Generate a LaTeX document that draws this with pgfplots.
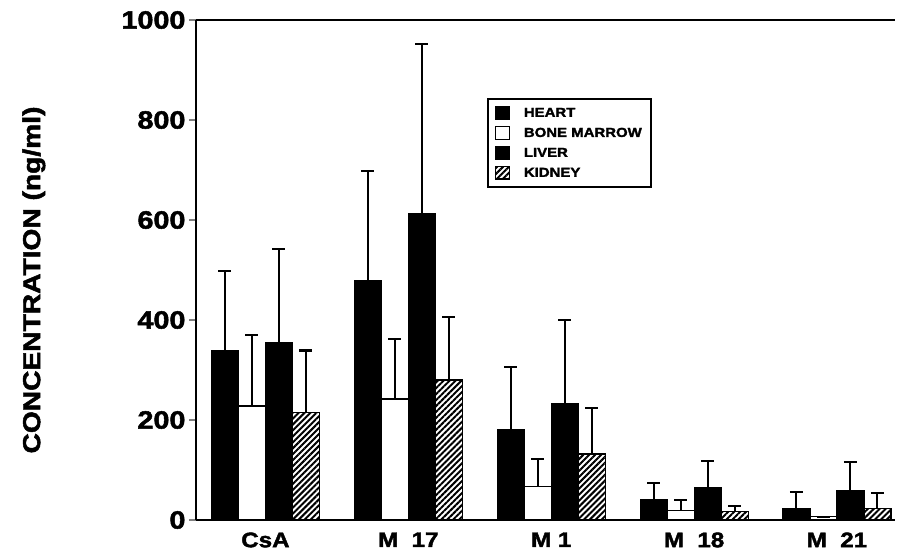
\documentclass[border=0pt]{standalone}
\usepackage{pgfplots}
\pgfplotsset{compat=1.18}
\usepackage{fontspec}
\setmainfont{Liberation Sans}[BoldFeatures={FakeStretch=1.15, FakeBold=2}]
\usetikzlibrary{patterns.meta}
\begin{document}
\begin{tikzpicture}
\useasboundingbox (-196pt,-37pt) rectangle (703pt,520pt);
\begin{axis}[
 at={(0pt,0pt)}, anchor=south west,
 scale only axis, width=699pt, height=500pt,
 xmin=-0.486, xmax=4.406, ymin=0, ymax=1000,
 axis y line=left, axis x line=box,
 axis line style={-, line width=2.2pt},
 ytick={0,200,400,600,800,1000},
 ytick align=outside, major tick length=7pt,
 ytick style={line width=1.6pt},
 xtick={0,1,2,3,4},
 xticklabels={CsA, M\ \ 17, M\ 1, M\ \ 18, M\ \ 21},
 xtick style={draw=none},
 x tick label style={font=\fontsize{21}{24}\selectfont\bfseries, yshift=-2pt},
 y tick label style={font=\fontsize{25}{28}\selectfont\bfseries},
 /pgf/number format/assume math mode=true,
 /pgf/number format/1000 sep={},
 ylabel={CONCENTRATION (ng/ml)},
 ylabel style={at={(axis description cs:-0.232,0.48)}, anchor=center, font=\fontsize{24.5}{28}\selectfont\bfseries},
 ybar=0pt, bar width=27pt,
 every axis plot/.append style={draw=black, line width=1.2pt},
 error bars/y dir=plus, error bars/y explicit,
 error bars/error bar style={line width=2pt, draw=black, solid},
 error bars/error mark options={rotate=90, line width=2pt, mark size=6.5pt, draw=black},
 legend style={at={(rel axis cs:0.416,0.844)}, anchor=north west,
   draw=black, line width=1.8pt, inner xsep=7pt, inner ysep=7pt,
   font=\fontsize{13}{15}\selectfont\bfseries, row sep=5.5pt,
   cells={anchor=west}},
 legend image code/.code={\draw[#1, line width=1.2pt] (0pt,-6pt) rectangle (14pt,6.5pt); \path (26pt,0pt);},
]
\addplot[fill=black] coordinates {(0,338) +- (0,160) (1,478) +- (0,219) (2,180) +- (0,126) (3,40) +- (0,35) (4,22) +- (0,35)};
\addplot[fill=white] coordinates {(0,228) +- (0,141) (1,242) +- (0,120) (2,67) +- (0,55) (3,19) +- (0,22) (4,7) +- (0,0)};
\addplot[fill=black] coordinates {(0,355) +- (0,186) (1,613) +- (0,338) (2,232) +- (0,168) (3,65) +- (0,53) (4,58) +- (0,58)};
\addplot[fill=white, pattern={Lines[angle=45,distance=4.2pt,line width=2pt]}, pattern color=black] coordinates {(0,215) +- (0,124) (1,280) +- (0,125) (2,132) +- (0,93) (3,17) +- (0,11) (4,23) +- (0,32)};
\legend{HEART, BONE MARROW, LIVER, KIDNEY}
\end{axis}
\end{tikzpicture}
\end{document}
